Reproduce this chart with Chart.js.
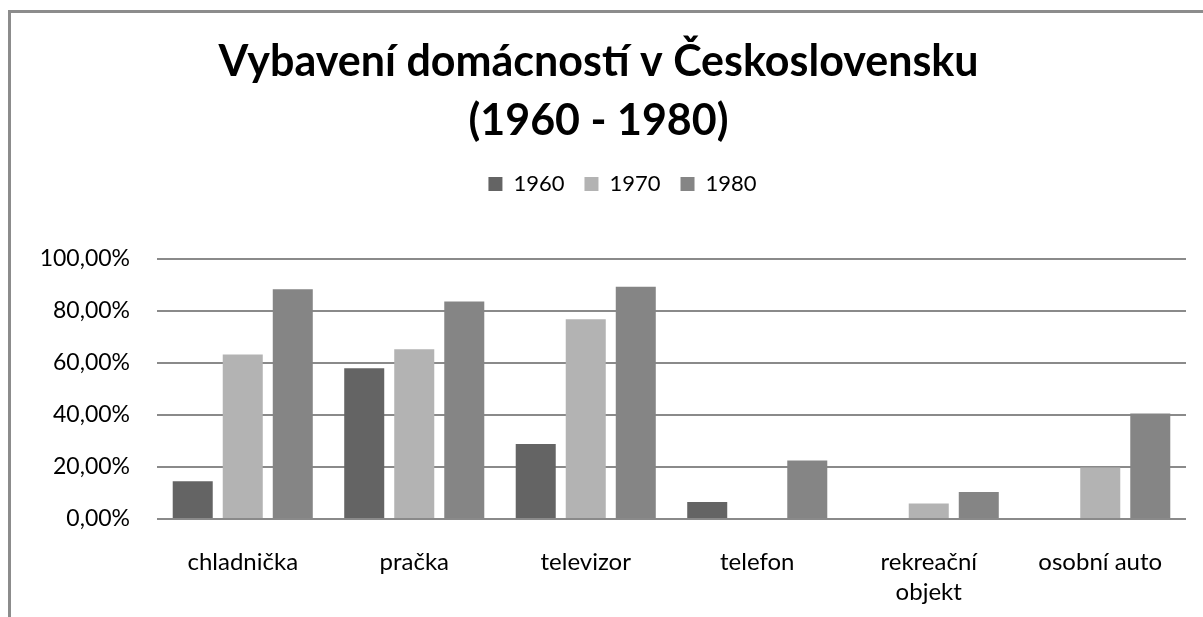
<!DOCTYPE html>
<html lang="cs">
<head>
<meta charset="UTF-8">
<title>Vybavení domácností v Československu</title>
<script src="https://cdn.jsdelivr.net/npm/chart.js@4"></script>
<style>
    html, body { margin: 0; padding: 0; background: #fff; overflow: hidden; }
    #frame {
        position: absolute;
        left: 8px;
        top: 10px;
        width: 1195px;
        height: 607px;
        box-sizing: border-box;
        border-top: 3px solid #8c8c8c;
        border-left: 3px solid #8c8c8c;
    }
    #chart { display: block; }
</style>
</head>
<body>
<div id="frame">
    <canvas id="chart" width="1192" height="604"></canvas>
</div>
<script>
// values (share of households, %)
const categories = ["chladnička", "pračka", "televizor", "telefon", ["rekreační", "objekt"], "osobní auto"];
const years = ["1960", "1970", "1980"];
const values1960 = [14.5, 58.0, 28.8, 6.5, null, null];
const values1970 = [63.3, 65.3, 76.8, null, 6.0, 19.8];
const values1980 = [88.4, 83.7, 89.3, 22.5, 10.4, 40.6];
const yTicks = [0, 20, 40, 60, 80, 100];

const barColors = ["#646464", "#b3b3b3", "#858585"];
const fontName = "Lato";

document.addEventListener("DOMContentLoaded", function () {
    const ctx = document.getElementById("chart").getContext("2d");

    // legend: fixed gap above the plot, items nudged a bit to the right
    const legendGap = {
        id: "legendGap",
        beforeInit(chart) {
            const fitLegend = chart.legend.fit;
            chart.legend.fit = function () {
                fitLegend.bind(chart.legend)();
                this.height = 106;
                if (this.lineWidths && this.lineWidths.length) {
                    this.lineWidths[0] -= 48;
                }
            };
        }
    };

    new Chart(ctx, {
        type: "bar",
        data: {
            labels: categories,
            datasets: [
                { label: years[0], data: values1960, backgroundColor: barColors[0] },
                { label: years[1], data: values1970, backgroundColor: barColors[1] },
                { label: years[2], data: values1980, backgroundColor: barColors[2] }
            ]
        },
        options: {
            responsive: false,
            animation: false,
            barPercentage: 0.8,
            categoryPercentage: 0.875,
            layout: { padding: { left: 0, right: 17, top: 0, bottom: 0 } },
            plugins: {
                title: {
                    display: true,
                    text: ["Vybavení domácností v Československu", "(1960 - 1980)"],
                    color: "#000",
                    font: { family: fontName, size: 43, weight: "bold", lineHeight: "59px" },
                    padding: { top: 20, bottom: 2 }
                },
                legend: {
                    position: "top",
                    labels: {
                        color: "#000",
                        boxWidth: 14,
                        boxHeight: 14,
                        padding: 20,
                        font: { family: fontName, size: 22 }
                    }
                },
                tooltip: { enabled: false }
            },
            scales: {
                x: {
                    grid: { display: false },
                    border: { display: false },
                    ticks: {
                        color: "#000",
                        padding: 20,
                        maxRotation: 0,
                        autoSkip: false,
                        font: { family: fontName, size: 24, lineHeight: "30px" }
                    },
                    afterFit(scale) { scale.height = 98; }
                },
                y: {
                    min: 0,
                    max: 100,
                    afterBuildTicks(scale) { scale.ticks = yTicks.map(v => ({ value: v })); },
                    grid: { color: "#8a8a8a", lineWidth: 2, drawTicks: false },
                    border: { display: false },
                    ticks: {
                        color: "#000",
                        padding: 27,
                        font: { family: fontName, size: 23 },
                        callback: v => v.toFixed(2).replace(".", ",") + "%"
                    },
                    afterFit(scale) { scale.width = 146; }
                }
            }
        },
        plugins: [legendGap]
    });
});
</script>
</body>
</html>
